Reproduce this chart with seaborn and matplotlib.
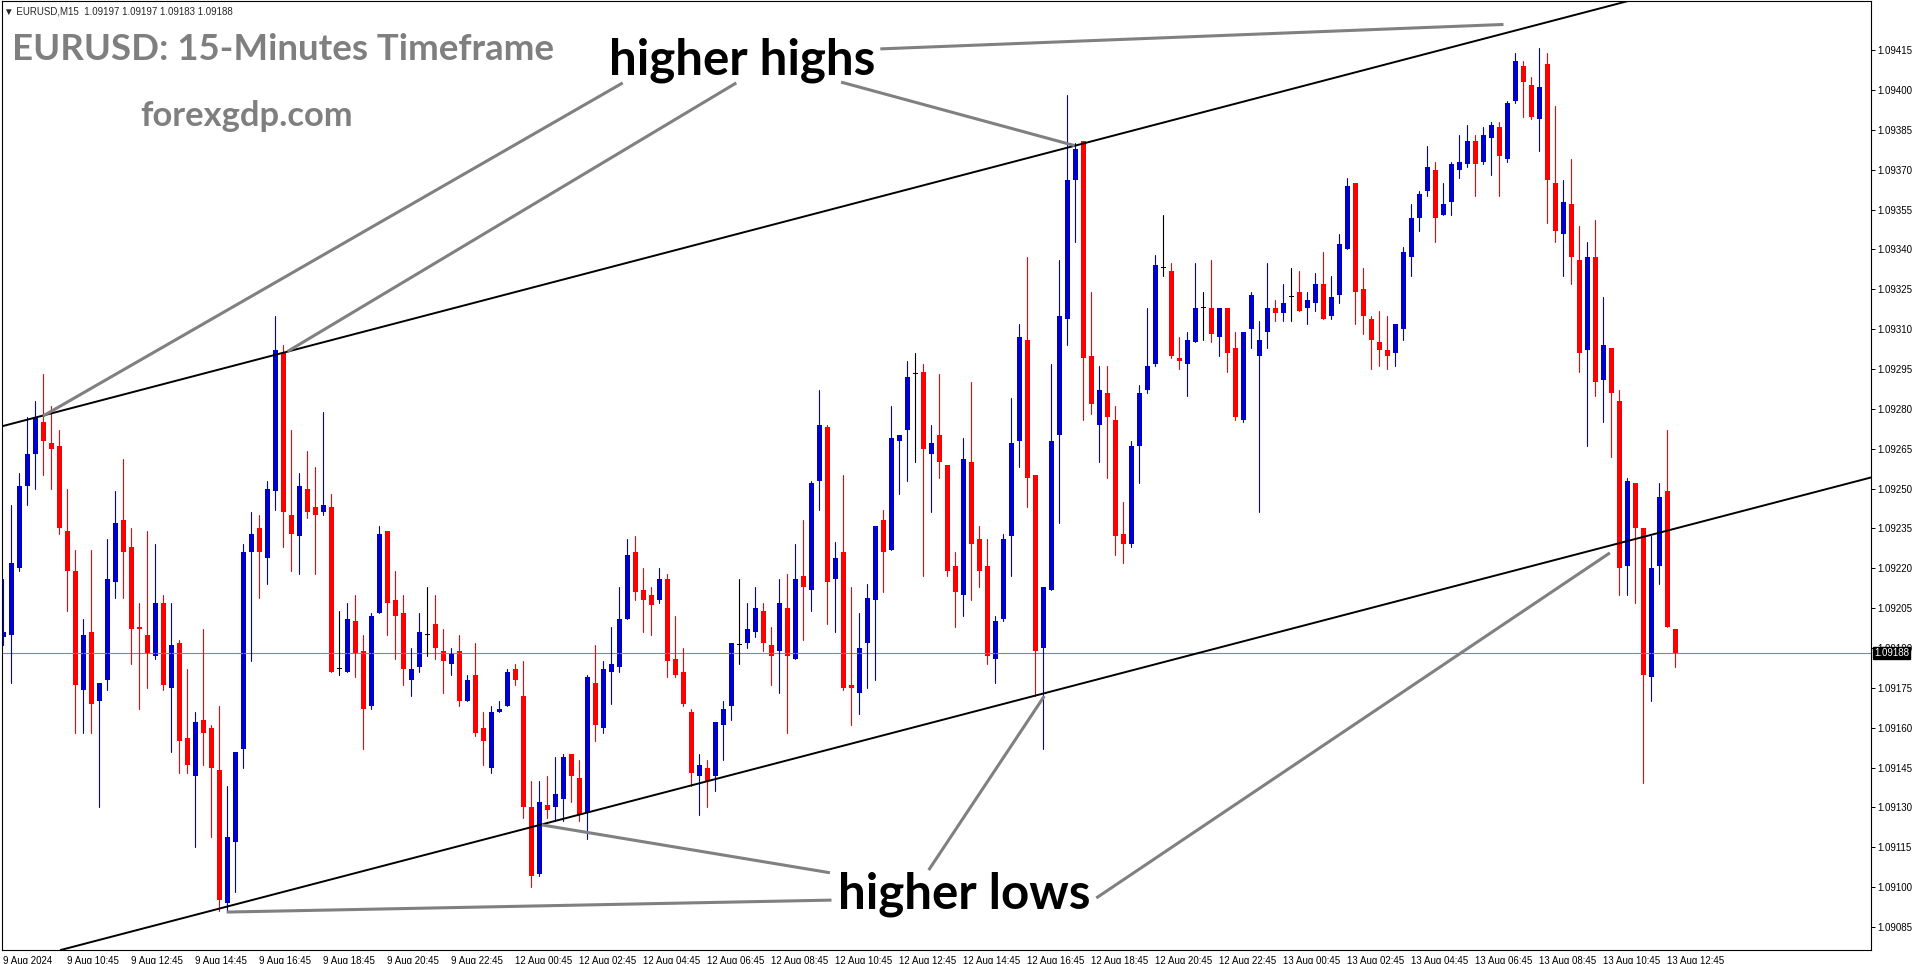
import numpy as np
import pandas as pd
import seaborn as sns
import matplotlib.pyplot as plt
from matplotlib.transforms import ScaledTranslation

# EURUSD M15 candles, 9 Aug 2024 08:45 -> 13 Aug 2024 13:00
opens = [
    1.09194, 1.09195, 1.09220, 1.09251, 1.09263, 1.09275, 1.09267, 1.09266, 1.09234, 1.09219,
    1.09174, 1.09196, 1.09170, 1.09178, 1.09215, 1.09238, 1.09228, 1.09198, 1.09195, 1.09187,
    1.09207, 1.09175, 1.09192, 1.09156, 1.09142, 1.09163, 1.09160, 1.09144, 1.09094, 1.09117,
    1.09152, 1.09226, 1.09235, 1.09224, 1.09249, 1.09301, 1.09240, 1.09232, 1.09250, 1.09243,
    1.09241, 1.09243, 1.09182, 1.09181, 1.09200, 1.09189, 1.09168, 1.09203, 1.09234, 1.09208,
    1.09203, 1.09178, 1.09183, 1.09195, 1.09199, 1.09189, 1.09184, 1.09189, 1.09170, 1.09180,
    1.09160, 1.09145, 1.09166, 1.09168, 1.09182, 1.09172, 1.09130, 1.09105, 1.09131, 1.09130,
    1.09133, 1.09150, 1.09141, 1.09128, 1.09177, 1.09160, 1.09181, 1.09183, 1.09201, 1.09226,
    1.09212, 1.09210, 1.09208, 1.09216, 1.09186, 1.09181, 1.09166, 1.09142, 1.09145, 1.09142,
    1.09161, 1.09168, 1.09191, 1.09192, 1.09196, 1.09204, 1.09191, 1.09189, 1.09205, 1.09186,
    1.09217, 1.09212, 1.09253, 1.09273, 1.09216, 1.09226, 1.09176, 1.09173, 1.09192, 1.09208,
    1.09238, 1.09227, 1.09268, 1.09272, 1.09293, 1.09294, 1.09263, 1.09270, 1.09259, 1.09221,
    1.09210, 1.09260, 1.09231, 1.09221, 1.09186, 1.09201, 1.09232, 1.09268, 1.09306, 1.09255,
    1.09190, 1.09212, 1.09270, 1.09314, 1.09366, 1.09381, 1.09300, 1.09274, 1.09286, 1.09276,
    1.09233, 1.09229, 1.09266, 1.09287, 1.09297, 1.09333, 1.09332, 1.09299, 1.09297, 1.09305,
    1.09318, 1.09318, 1.09307, 1.09318, 1.09303, 1.09276, 1.09310, 1.09300, 1.09309, 1.09318,
    1.09316, 1.09322, 1.09324, 1.09318, 1.09320, 1.09327, 1.09315, 1.09323, 1.09340, 1.09365,
    1.09325, 1.09314, 1.09305, 1.09302, 1.09301, 1.09310, 1.09337, 1.09352, 1.09362, 1.09370,
    1.09353, 1.09358, 1.09370, 1.09372, 1.09381, 1.09373, 1.09382, 1.09386, 1.09374, 1.09396,
    1.09409, 1.09402, 1.09389, 1.09410, 1.09365, 1.09346, 1.09357, 1.09336, 1.09302, 1.09337,
    1.09291, 1.09303, 1.09283, 1.09221, 1.09252, 1.09235, 1.09179, 1.09221, 1.09249, 1.09197,
]
highs = [
    1.09216, 1.09244, 1.09256, 1.09277, 1.09283, 1.09293, 1.09281, 1.09272, 1.09250, 1.09227,
    1.09201, 1.09227, 1.09177, 1.09231, 1.09249, 1.09261, 1.09235, 1.09207, 1.09234, 1.09229,
    1.09210, 1.09207, 1.09193, 1.09182, 1.09166, 1.09197, 1.09161, 1.09168, 1.09138, 1.09151,
    1.09229, 1.09241, 1.09240, 1.09253, 1.09315, 1.09304, 1.09272, 1.09256, 1.09264, 1.09258,
    1.09279, 1.09248, 1.09204, 1.09207, 1.09210, 1.09195, 1.09203, 1.09236, 1.09234, 1.09219,
    1.09210, 1.09190, 1.09203, 1.09213, 1.09210, 1.09197, 1.09190, 1.09195, 1.09180, 1.09192,
    1.09166, 1.09168, 1.09170, 1.09182, 1.09184, 1.09185, 1.09140, 1.09140, 1.09142, 1.09149,
    1.09150, 1.09150, 1.09148, 1.09180, 1.09191, 1.09185, 1.09198, 1.09213, 1.09231, 1.09232,
    1.09220, 1.09213, 1.09220, 1.09218, 1.09202, 1.09190, 1.09167, 1.09150, 1.09148, 1.09162,
    1.09170, 1.09192, 1.09216, 1.09207, 1.09213, 1.09207, 1.09198, 1.09216, 1.09218, 1.09229,
    1.09238, 1.09253, 1.09287, 1.09274, 1.09230, 1.09255, 1.09213, 1.09203, 1.09214, 1.09236,
    1.09242, 1.09281, 1.09270, 1.09298, 1.09301, 1.09297, 1.09274, 1.09293, 1.09259, 1.09226,
    1.09269, 1.09290, 1.09236, 1.09231, 1.09202, 1.09233, 1.09284, 1.09312, 1.09337, 1.09255,
    1.09213, 1.09297, 1.09336, 1.09398, 1.09380, 1.09381, 1.09324, 1.09296, 1.09296, 1.09281,
    1.09245, 1.09268, 1.09289, 1.09318, 1.09338, 1.09353, 1.09335, 1.09307, 1.09309, 1.09335,
    1.09324, 1.09336, 1.09318, 1.09318, 1.09309, 1.09309, 1.09324, 1.09313, 1.09335, 1.09321,
    1.09327, 1.09333, 1.09332, 1.09324, 1.09331, 1.09339, 1.09330, 1.09346, 1.09367, 1.09365,
    1.09333, 1.09315, 1.09317, 1.09315, 1.09312, 1.09341, 1.09357, 1.09362, 1.09379, 1.09373,
    1.09365, 1.09373, 1.09383, 1.09387, 1.09383, 1.09386, 1.09388, 1.09388, 1.09396, 1.09414,
    1.09411, 1.09405, 1.09416, 1.09414, 1.09394, 1.09366, 1.09374, 1.09349, 1.09343, 1.09351,
    1.09322, 1.09303, 1.09287, 1.09254, 1.09252, 1.09235, 1.09232, 1.09252, 1.09272, 1.09197,
]
lows = [
    1.09191, 1.09177, 1.09219, 1.09244, 1.09250, 1.09255, 1.09250, 1.09233, 1.09204, 1.09158,
    1.09158, 1.09158, 1.09130, 1.09174, 1.09209, 1.09209, 1.09184, 1.09167, 1.09175, 1.09186,
    1.09174, 1.09151, 1.09143, 1.09143, 1.09115, 1.09146, 1.09119, 1.09091, 1.09091, 1.09098,
    1.09145, 1.09185, 1.09209, 1.09214, 1.09242, 1.09228, 1.09219, 1.09218, 1.09239, 1.09218,
    1.09240, 1.09181, 1.09180, 1.09181, 1.09179, 1.09152, 1.09167, 1.09203, 1.09195, 1.09186,
    1.09176, 1.09172, 1.09181, 1.09187, 1.09186, 1.09173, 1.09180, 1.09168, 1.09170, 1.09157,
    1.09146, 1.09143, 1.09166, 1.09168, 1.09176, 1.09126, 1.09100, 1.09104, 1.09126, 1.09125,
    1.09125, 1.09132, 1.09125, 1.09118, 1.09155, 1.09158, 1.09169, 1.09181, 1.09201, 1.09208,
    1.09196, 1.09195, 1.09207, 1.09179, 1.09179, 1.09168, 1.09138, 1.09127, 1.09130, 1.09136,
    1.09148, 1.09163, 1.09184, 1.09190, 1.09194, 1.09189, 1.09176, 1.09173, 1.09158, 1.09186,
    1.09193, 1.09204, 1.09242, 1.09199, 1.09196, 1.09174, 1.09161, 1.09165, 1.09175, 1.09178,
    1.09211, 1.09227, 1.09248, 1.09253, 1.09260, 1.09217, 1.09241, 1.09254, 1.09217, 1.09198,
    1.09202, 1.09208, 1.09213, 1.09184, 1.09177, 1.09200, 1.09217, 1.09258, 1.09243, 1.09172,
    1.09152, 1.09212, 1.09237, 1.09304, 1.09343, 1.09276, 1.09278, 1.09260, 1.09254, 1.09225,
    1.09222, 1.09228, 1.09252, 1.09286, 1.09296, 1.09330, 1.09299, 1.09295, 1.09285, 1.09305,
    1.09306, 1.09305, 1.09300, 1.09294, 1.09276, 1.09275, 1.09303, 1.09241, 1.09303, 1.09313,
    1.09313, 1.09313, 1.09317, 1.09312, 1.09317, 1.09314, 1.09314, 1.09320, 1.09340, 1.09312,
    1.09308, 1.09295, 1.09296, 1.09295, 1.09296, 1.09306, 1.09330, 1.09347, 1.09360, 1.09343,
    1.09353, 1.09353, 1.09367, 1.09371, 1.09360, 1.09372, 1.09368, 1.09360, 1.09373, 1.09395,
    1.09390, 1.09389, 1.09377, 1.09350, 1.09343, 1.09330, 1.09327, 1.09294, 1.09266, 1.09285,
    1.09275, 1.09262, 1.09210, 1.09210, 1.09207, 1.09139, 1.09170, 1.09214, 1.09198, 1.09183,
]
closes = [
    1.09196, 1.09222, 1.09251, 1.09263, 1.09277, 1.09268, 1.09265, 1.09235, 1.09219, 1.09176,
    1.09195, 1.09169, 1.09177, 1.09216, 1.09237, 1.09226, 1.09197, 1.09197, 1.09188, 1.09207,
    1.09176, 1.09191, 1.09155, 1.09146, 1.09162, 1.09158, 1.09145, 1.09095, 1.09119, 1.09151,
    1.09226, 1.09233, 1.09226, 1.09250, 1.09302, 1.09241, 1.09233, 1.09251, 1.09241, 1.09240,
    1.09244, 1.09181, 1.09182, 1.09201, 1.09188, 1.09167, 1.09202, 1.09233, 1.09207, 1.09202,
    1.09182, 1.09182, 1.09196, 1.09195, 1.09190, 1.09185, 1.09188, 1.09170, 1.09178, 1.09158,
    1.09155, 1.09166, 1.09167, 1.09181, 1.09178, 1.09130, 1.09104, 1.09132, 1.09129, 1.09135,
    1.09149, 1.09142, 1.09127, 1.09179, 1.09161, 1.09182, 1.09184, 1.09201, 1.09225, 1.09211,
    1.09208, 1.09206, 1.09216, 1.09185, 1.09180, 1.09169, 1.09143, 1.09146, 1.09140, 1.09162,
    1.09167, 1.09192, 1.09191, 1.09197, 1.09205, 1.09192, 1.09187, 1.09207, 1.09187, 1.09216,
    1.09213, 1.09252, 1.09274, 1.09215, 1.09224, 1.09175, 1.09175, 1.09190, 1.09209, 1.09236,
    1.09226, 1.09269, 1.09270, 1.09292, 1.09293, 1.09265, 1.09267, 1.09260, 1.09219, 1.09211,
    1.09261, 1.09229, 1.09219, 1.09187, 1.09200, 1.09231, 1.09267, 1.09307, 1.09254, 1.09189,
    1.09213, 1.09268, 1.09315, 1.09366, 1.09378, 1.09299, 1.09282, 1.09287, 1.09277, 1.09232,
    1.09229, 1.09266, 1.09286, 1.09296, 1.09334, 1.09333, 1.09300, 1.09298, 1.09306, 1.09318,
    1.09318, 1.09308, 1.09318, 1.09301, 1.09277, 1.09309, 1.09323, 1.09306, 1.09318, 1.09316,
    1.09320, 1.09322, 1.09317, 1.09321, 1.09327, 1.09314, 1.09322, 1.09342, 1.09364, 1.09324,
    1.09315, 1.09306, 1.09302, 1.09300, 1.09312, 1.09339, 1.09352, 1.09361, 1.09371, 1.09352,
    1.09357, 1.09372, 1.09373, 1.09381, 1.09372, 1.09383, 1.09387, 1.09375, 1.09395, 1.09411,
    1.09403, 1.09390, 1.09401, 1.09366, 1.09347, 1.09358, 1.09337, 1.09301, 1.09337, 1.09290,
    1.09304, 1.09286, 1.09220, 1.09253, 1.09235, 1.09180, 1.09220, 1.09247, 1.09198, 1.09188,
]

time_ticks = list(range(0, 209, 8))
time_labels = [
    "9 Aug 2024", "9 Aug 10:45", "9 Aug 12:45", "9 Aug 14:45", "9 Aug 16:45",
    "9 Aug 18:45", "9 Aug 20:45", "9 Aug 22:45", "12 Aug 00:45", "12 Aug 02:45",
    "12 Aug 04:45", "12 Aug 06:45", "12 Aug 08:45", "12 Aug 10:45", "12 Aug 12:45",
    "12 Aug 14:45", "12 Aug 16:45", "12 Aug 18:45", "12 Aug 20:45", "12 Aug 22:45",
    "13 Aug 00:45", "13 Aug 02:45", "13 Aug 04:45", "13 Aug 06:45", "13 Aug 08:45",
    "13 Aug 10:45", "13 Aug 12:45",
]
price_labels = [
    "1.09085", "1.09100", "1.09115", "1.09130", "1.09145", "1.09160", "1.09175", "1.09190",
    "1.09205", "1.09220", "1.09235", "1.09250", "1.09265", "1.09280", "1.09295", "1.09310",
    "1.09325", "1.09340", "1.09355", "1.09370", "1.09385", "1.09400", "1.09415",
]
last_price = 1.09188

# trend channel (bar index, price) anchors
upper_channel = [(0, 1.092736), (200, 1.094311)]
lower_channel = [(0, 1.090707), (200, 1.092279)]

# gray pointer lines from the labels to the touches
high_pointers = [
    [(77.4, 1.094027), (4.93, 1.092773)],
    [(91.6, 1.094027), (35.5, 1.093016)],
    [(109.6, 1.094155), (187.5, 1.094247)],
    [(104.7, 1.094030), (133.9, 1.093791)],
]
low_pointers = [
    [(103.5, 1.090951), (27.9, 1.090906)],
    [(103.3, 1.091054), (67.3, 1.091234)],
    [(115.65, 1.091064), (130.1, 1.091719)],
    [(136.6, 1.090959), (200.8, 1.092258)],
]

sns.set_theme(style="white")
plt.rcParams['font.family'] = ['Liberation Sans', 'DejaVu Sans']

df = pd.DataFrame({"bar": np.arange(len(opens)), "open": opens, "high": highs,
                   "low": lows, "close": closes})
df["kind"] = np.where(df["close"] > df["open"], "bull",
                      np.where(df["close"] < df["open"], "bear", "doji"))
palette = {"bull": "#0000CC", "bear": "#FF0000", "doji": "#000000"}

W, H = 1916, 964
fig = plt.figure(figsize=(W / 100, H / 100), dpi=100)
ax = fig.add_axes([2 / W, (H - 950) / H, 1869 / W, 949 / H])

# wicks
wicks = df.melt(id_vars=["bar", "kind"], value_vars=["low", "high"], value_name="price")
sns.lineplot(data=wicks, x="bar", y="price", units="bar", hue="kind", estimator=None,
             palette=palette, linewidth=0.8, legend=False, sort=False, ax=ax)

# bodies
body_low = np.minimum(df["open"], df["close"])
body_h = np.maximum(np.abs(df["close"] - df["open"]), 0.000004)
ax.bar(df["bar"], body_h, bottom=body_low, width=0.625,
       color=[palette[k] for k in df["kind"]], linewidth=0)

# current price line
ax.axhline(last_price, color="#7a8b99", linewidth=0.8, zorder=1)

# channel
ax.axline(upper_channel[0], upper_channel[1], color="black", linewidth=1.4)
ax.axline(lower_channel[0], lower_channel[1], color="black", linewidth=1.4)

for seg in high_pointers + low_pointers:
    xs, ys = zip(*seg)
    ax.plot(xs, ys, color="#808080", linewidth=2.2, solid_capstyle="butt")

ax.text(92.3, 1.094113, "higher highs", fontsize=35.5, fontweight="bold",
        family=["Lato", "DejaVu Sans"], ha="center", va="center", color="black")
ax.text(120.15, 1.090972, "higher lows", fontsize=35.5, fontweight="bold",
        family=["Lato", "DejaVu Sans"], ha="center", va="center", color="black")

ax.set_xlim(-0.1875, 233.44)
ax.set_ylim(1.0907632, 1.0943353)

ax.set_xticks(time_ticks)
ax.set_xticklabels(time_labels, ha="left", fontsize=7)
for lbl in ax.get_xticklabels():
    lbl.set_transform(lbl.get_transform() + ScaledTranslation(2 / 100, 0, fig.dpi_scale_trans))
ax.yaxis.tick_right()
ax.set_yticks([float(p) for p in price_labels])
ax.set_yticklabels(price_labels, fontsize=7)
ax.tick_params(axis="both", direction="out", length=3, width=0.7, color="black",
               pad=1.5, labelcolor="black")
ax.set_xlabel("")
ax.set_ylabel("")
for sp in ax.spines.values():
    sp.set_color("black")
    sp.set_linewidth(0.8)

ax.annotate(f"{last_price:.5f}", xy=(1, last_price), xycoords=("axes fraction", "data"),
            xytext=(3, 0), textcoords="offset pixels", ha="left", va="center",
            fontsize=7, color="white", zorder=10,
            bbox=dict(boxstyle="square,pad=0.12", fc="black", ec="black"))

fig.text(4 / W, 1 - 12 / H, "\u25bc EURUSD,M15  1.09197 1.09197 1.09183 1.09188",
         fontsize=7, va="center", ha="left", family=["Liberation Sans", "DejaVu Sans"])
fig.text(12 / W, 1 - 50 / H, "EURUSD: 15-Minutes Timeframe", fontsize=26.4,
         fontweight="bold", color="#7f7f7f", va="center", ha="left",
         family=["Lato", "DejaVu Sans"])
fig.text(140 / W, 1 - 116 / H, "forexgdp.com", fontsize=24.8, fontweight="bold",
         color="#7f7f7f", va="center", ha="left", family=["Lato", "DejaVu Sans"])

fig.savefig("out.png", dpi=100)
